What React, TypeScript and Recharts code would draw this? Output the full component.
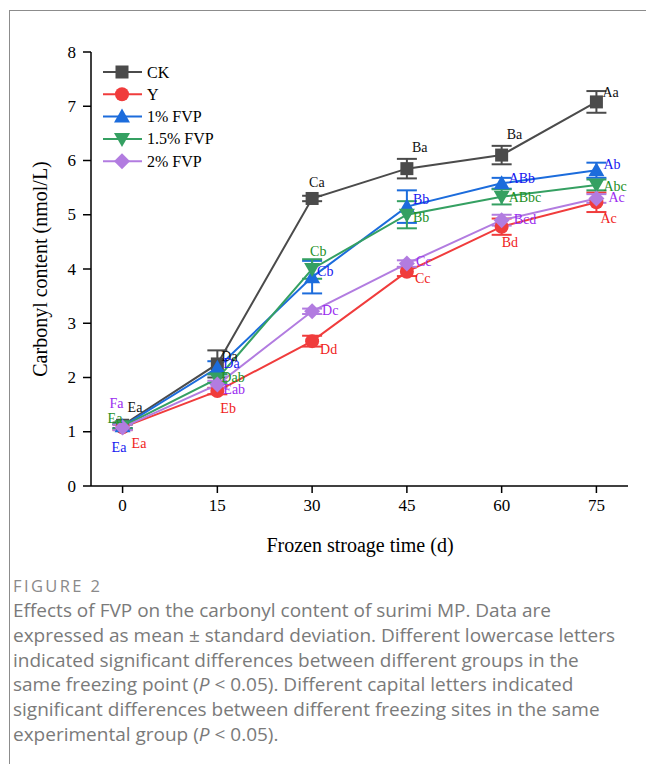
import React from "react";
import { LineChart, Line, XAxis, YAxis, ErrorBar, LabelList } from "recharts";

// Storage days and carbonyl content (nmol/L), mean and SD per group
const days = [0, 15, 30, 45, 60, 75];
const ck = [1.12, 2.25, 5.3, 5.85, 6.1, 7.08];
const ckSd = [0.05, 0.25, 0.05, 0.18, 0.17, 0.2];
const yGroup = [1.08, 1.75, 2.67, 3.95, 4.78, 5.23];
const yGroupSd = [0.05, 0.06, 0.1, 0.08, 0.15, 0.18];
const fvp1 = [1.1, 2.18, 3.85, 5.15, 5.58, 5.82];
const fvp1Sd = [0.04, 0.12, 0.3, 0.3, 0.1, 0.14];
const fvp15 = [1.1, 1.98, 4.0, 5.0, 5.33, 5.55];
const fvp15Sd = [0.04, 0.08, 0.18, 0.25, 0.14, 0.1];
const fvp2 = [1.08, 1.87, 3.22, 4.1, 4.9, 5.3];
const fvp2Sd = [0.05, 0.07, 0.05, 0.06, 0.1, 0.08];

// Significance letters
const ckLetters = ["Ea", "Da", "Ca", "Ba", "Ba", "Aa"];
const yLetters = ["Ea", "Eb", "Dd", "Cc", "Bd", "Ac"];
const fvp1Letters = ["Ea", "Da", "Cb", "Bb", "ABb", "Ab"];
const fvp15Letters = ["Ea", "Dab", "Cb", "Bb", "ABbc", "Abc"];
const fvp2Letters = ["Fa", "Eab", "Dc", "Cc", "Bcd", "Ac"];

const seriesNames = ["CK", "Y", "1% FVP", "1.5% FVP", "2% FVP"];
const xTicks = [0, 15, 30, 45, 60, 75];
const yTicks = [0, 1, 2, 3, 4, 5, 6, 7, 8];

const captionTitle = "FIGURE 2";
const captionLines = [
  "Effects of FVP on the carbonyl content of surimi MP. Data are",
  "expressed as mean \u00b1 standard deviation. Different lowercase letters",
  "indicated significant differences between different groups in the",
  "same freezing point (",
  "significant differences between different freezing sites in the same",
  "experimental group (",
];

const data = days.map((d, i) => ({
  day: d,
  ck: ck[i],
  ckSd: ckSd[i],
  ckL: ckLetters[i],
  y: yGroup[i],
  ySd: yGroupSd[i],
  yL: yLetters[i],
  f1: fvp1[i],
  f1Sd: fvp1Sd[i],
  f1L: fvp1Letters[i],
  f15: fvp15[i],
  f15Sd: fvp15Sd[i],
  f15L: fvp15Letters[i],
  f2: fvp2[i],
  f2Sd: fvp2Sd[i],
  f2L: fvp2Letters[i],
}));

type Shape = "square" | "circle" | "up" | "down" | "diamond";

const SERIF = "Liberation Serif";
const SANS = "'Open Sans', Lato, sans-serif";

// Label placement offsets (left edge / vertical centre relative to the point)
const labelOffsets: Record<string, [number, number][]> = {
  ck: [[5, -18], [4, -7], [-3, -16], [5, -21], [5, -21], [6, -9]],
  y: [[9, 16], [3, 17], [8, 8], [8, 7], [0, 16], [4, 16]],
  f1: [[-11, 21], [6, -4], [5, -6], [6, -7], [7, -5], [7, -6]],
  f15: [[-15, -8], [4, -1], [-2, -18], [6, 3], [7, 1], [7, 2]],
  f2: [[-13, -24], [6, 5], [10, -1], [9, -2], [12, -1], [12, -1]],
};

const series = [
  { key: "ck", sd: "ckSd", lab: "ckL", name: seriesNames[0], color: "#4b4b4b", text: "#111111", shape: "square" as Shape },
  { key: "y", sd: "ySd", lab: "yL", name: seriesNames[1], color: "#f03c3c", text: "#f01c1c", shape: "circle" as Shape },
  { key: "f1", sd: "f1Sd", lab: "f1L", name: seriesNames[2], color: "#1c6cdc", text: "#1818f0", shape: "up" as Shape },
  { key: "f15", sd: "f15Sd", lab: "f15L", name: seriesNames[3], color: "#35a062", text: "#24901f", shape: "down" as Shape },
  { key: "f2", sd: "f2Sd", lab: "f2L", name: seriesNames[4], color: "#b27ce0", text: "#9a2cf0", shape: "diamond" as Shape },
];

function Marker({ cx, cy, shape, color }: { cx: number; cy: number; shape: Shape; color: string }) {
  switch (shape) {
    case "square":
      return <rect x={cx - 6.5} y={cy - 6.5} width={13} height={13} fill={color} />;
    case "circle":
      return <circle cx={cx} cy={cy} r={7} fill={color} />;
    case "up":
      return <polygon points={`${cx},${cy - 8} ${cx + 8},${cy + 6} ${cx - 8},${cy + 6}`} fill={color} />;
    case "down":
      return <polygon points={`${cx},${cy + 8} ${cx + 8},${cy - 6} ${cx - 8},${cy - 6}`} fill={color} />;
    default:
      return <polygon points={`${cx},${cy - 8} ${cx + 8},${cy} ${cx},${cy + 8} ${cx - 8},${cy}`} fill={color} />;
  }
}

function XTick({ x, y, payload }: any) {
  return (
    <text x={x} y={y + 12} textAnchor="middle" dominantBaseline="central" fontSize={17} fontFamily={SERIF} fill="#000">
      {payload.value}
    </text>
  );
}

function YTick({ x, y, payload }: any) {
  return (
    <text x={x} y={y} textAnchor="end" dominantBaseline="central" fontSize={17} fontFamily={SERIF} fill="#000">
      {payload.value}
    </text>
  );
}

const P = () => <span style={{ fontStyle: "italic" }}>P</span>;

export default function App() {
  return (
    <div style={{ position: "absolute", left: 0, top: 0, width: 646, height: 764, background: "#fff", overflow: "hidden" }}>
      {/* card frame */}
      <div
        style={{
          position: "absolute",
          left: 9,
          top: 10,
          width: 660,
          height: 800,
          borderTop: "1.5px solid #8c8c8c",
          borderLeft: "1.5px solid #8c8c8c",
        }}
      />
      <div style={{ position: "absolute", left: 0, top: 0, fontFamily: SERIF }}>
        <LineChart width={646} height={570} data={data} margin={{ top: 52, right: 18, left: 31, bottom: 54 }}>
          <XAxis
            dataKey="day"
            type="number"
            domain={[-5, 80]}
            ticks={xTicks}
            tickSize={7}
            height={30}
            axisLine={{ stroke: "#000", strokeWidth: 1.5 }}
            tickLine={{ stroke: "#000", strokeWidth: 1.5 }}
            tick={<XTick />}
            tickMargin={0}
          />
          <XAxis xAxisId="top" dataKey="day" type="number" domain={[-5, 80]} orientation="top" height={0} tick={false} tickLine={false} axisLine={{ stroke: "#000", strokeWidth: 1.5 }} />
          <YAxis
            domain={[0, 8]}
            ticks={yTicks}
            width={60}
            tickSize={8}
            axisLine={{ stroke: "#000", strokeWidth: 1.5 }}
            tickLine={{ stroke: "#000", strokeWidth: 1.5 }}
            tick={<YTick />}
            tickMargin={7}
          />
          <YAxis yAxisId="right" orientation="right" domain={[0, 8]} width={0} tick={false} tickLine={false} axisLine={{ stroke: "#000", strokeWidth: 1.5 }} />
          {series.map((s) => (
            <Line
              key={s.key}
              dataKey={s.key}
              name={s.name}
              stroke={s.color}
              strokeWidth={2}
              isAnimationActive={false}
              dot={(p: any) => <Marker key={`${s.key}-${p.index}`} cx={p.cx} cy={p.cy} shape={s.shape} color={s.color} />}
              activeDot={false}
            >
              <ErrorBar dataKey={s.sd} direction="y" width={10} stroke={s.color} strokeWidth={2} />
              <LabelList
                dataKey={s.lab}
                content={(p: any) => {
                  const off = labelOffsets[s.key][p.index] || [6, 0];
                  return (
                    <text
                      x={p.x + off[0]}
                      y={p.y + off[1]}
                      fill={s.text}
                      fontSize={14}
                      fontFamily={SERIF}
                      dominantBaseline="central"
                      textAnchor="start"
                    >
                      {p.value}
                    </text>
                  );
                }}
              />
            </Line>
          ))}
        </LineChart>
      </div>
      {/* legend and axis titles */}
      <svg width={646} height={570} style={{ position: "absolute", left: 0, top: 0, pointerEvents: "none" }}>
        {series.map((s, i) => {
          const cy = 72 + i * 22.3;
          return (
            <g key={s.key}>
              <line x1={103} x2={142} y1={cy} y2={cy} stroke={s.color} strokeWidth={2} />
              <Marker cx={122} cy={cy} shape={s.shape} color={s.color} />
              <text x={147} y={cy} dominantBaseline="central" fontSize={16} fontFamily={SERIF} fill="#000">
                {s.name}
              </text>
            </g>
          );
        })}
        <text x={360} y={545} textAnchor="middle" dominantBaseline="central" fontSize={20} fontFamily={SERIF} fill="#000">
          Frozen stroage time (d)
        </text>
        <text
          x={40}
          y={269}
          textAnchor="middle"
          dominantBaseline="central"
          fontSize={20}
          fontFamily={SERIF}
          fill="#000"
          transform="rotate(-90 40 269)"
        >
          Carbonyl content (nmol/L)
        </text>
      </svg>
      {/* caption */}
      <div
        style={{
          position: "absolute",
          left: 13,
          top: 575,
          fontFamily: SANS,
          color: "#8a8a8a",
          fontSize: 16.5,
          lineHeight: "22px",
          letterSpacing: 2.4,
        }}
      >
        {captionTitle}
      </div>
      <div
        style={{
          position: "absolute",
          left: 13,
          top: 598,
          fontFamily: SANS,
          color: "#7a7a7a",
          fontSize: 19,
          lineHeight: "24.8px",
          whiteSpace: "nowrap",
        }}
      >
        <div>{captionLines[0]}</div>
        <div>{captionLines[1]}</div>
        <div>{captionLines[2]}</div>
        <div>
          {captionLines[3]}
          <P /> &lt; 0.05). Different capital letters indicated
        </div>
        <div>{captionLines[4]}</div>
        <div>
          {captionLines[5]}
          <P /> &lt; 0.05).
        </div>
      </div>
    </div>
  );
}
